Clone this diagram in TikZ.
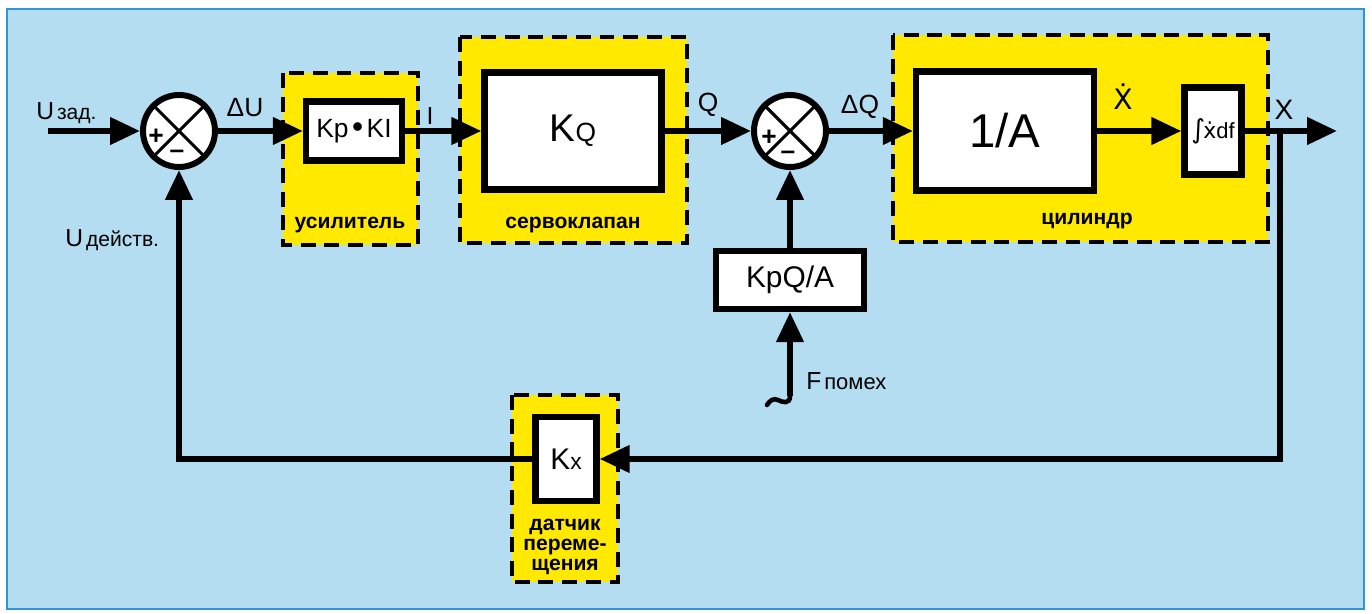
\documentclass[tikz,border=0pt]{standalone}
\usepackage{fontspec}
\setmainfont{Liberation Sans}
\newfontfamily\dotfont{DejaVu Sans}
\usetikzlibrary{arrows.meta}
\definecolor{skyfill}{RGB}{180,221,241}
\definecolor{unitfill}{RGB}{255,233,0}
\definecolor{framecol}{RGB}{46,150,212}
\tikzset{
  blk/.style={draw, fill=white, line width=3.6pt, inner sep=0pt},
  sumj/.style={circle, draw, fill=white, line width=3.4pt, minimum size=1.44cm, inner sep=0pt,
    path picture={\draw[line width=1.8pt]
      (path picture bounding box.north west) -- (path picture bounding box.south east)
      (path picture bounding box.north east) -- (path picture bounding box.south west);}},
  unit/.style={draw, fill=unitfill, line width=1.8pt, dash pattern=on 8.5pt off 5pt},
  conn/.style={line width=3.4pt, -{Triangle[length=17pt,width=15pt]}},
  wire/.style={line width=2.6pt, line cap=round},
  sgn/.style={font=\fontsize{15}{15}\selectfont\bfseries, inner sep=0pt},
  lbl/.style={inner sep=0pt},
  unitname/.style={font=\fontsize{12}{11.5}\selectfont\bfseries, inner sep=0pt, align=center}
}
\begin{document}
\begin{tikzpicture}[x=0.02cm, y=-0.02cm]
  \useasboundingbox (0,0) rectangle (1372,614);
  \draw[fill=skyfill, draw=framecol, line width=1.4pt] (7,9) rectangle (1364,609);
  \draw[unit] (283,73) rectangle (418,245);
  \draw[unit] (460,37) rectangle (687,243);
  \draw[unit] (893,35) rectangle (1268,242);
  \draw[unit] (512,395) rectangle (618,582);
  \node[unitname] (ampname) at (350,225) {усилитель};
  \node[unitname] (servoname) at (573,225) {сервоклапан};
  \node[unitname] (cylname) at (1087,221) {цилиндр};
  \node[unitname] (sensname) at (565,547) {датчик\\переме-\\щения};
  \node[sumj] (s1) at (179,131) {};
  \node[sumj] (s2) at (790,131) {};
  \node[sgn] (s1p) at (156,137) {+};
  \node[sgn] (s1m) at (177,154) {–};
  \node[sgn] (s2p) at (769,138) {+};
  \node[sgn] (s2m) at (788,155) {–};
  \node[blk, minimum width=1.92cm, minimum height=1.18cm, font=\fontsize{15}{15}\selectfont] (kpki) at (354,131) {Kp\kern2pt{\fontsize{18}{18}\selectfont•}\kern2pt KI};
  \node[blk, minimum width=3.54cm, minimum height=2.34cm] (kq) at (573,131) {{\fontsize{22}{22}\selectfont K}{\fontsize{15}{15}\selectfont Q}};
  \node[blk, minimum width=3.56cm, minimum height=2.38cm, font=\fontsize{27}{27}\selectfont] (inva) at (1005,131) {1/A};
  \node[blk, minimum width=1.14cm, minimum height=1.74cm, font=\fontsize{12.5}{12.5}\selectfont] (integ) at (1213,131) {{\dotfont\fontsize{15}{15}\selectfont ∫}\kern-1pt{\dotfont ẋ}df};
  \node[blk, minimum width=2.96cm, minimum height=1.16cm, font=\fontsize{17}{17}\selectfont] (kpqa) at (790,280) {KpQ/A};
  \node[blk, minimum width=1.22cm, minimum height=1.68cm] (kx) at (566,459) {{\fontsize{17}{17}\selectfont K}{\fontsize{13}{13}\selectfont x}};
  \node[lbl, anchor=west] (uset) at (36,113) {{\fontsize{14}{14}\selectfont U}\,{\fontsize{12}{12}\selectfont зад.}};
  \node[lbl, font=\fontsize{15}{15}\selectfont] (du) at (245,108) {ΔU};
  \node[lbl, font=\fontsize{14}{14}\selectfont] (ilbl) at (430,116) {I};
  \node[lbl, font=\fontsize{15}{15}\selectfont] (qlbl) at (708,105) {Q};
  \node[lbl, font=\fontsize{15}{15}\selectfont] (dq) at (860,107) {ΔQ};
  \node[lbl, font=\dotfont\fontsize{16}{16}\selectfont] (xdlbl) at (1123,97) {Ẋ};
  \node[lbl, font=\fontsize{16}{16}\selectfont] (xlbl) at (1284,110) {X};
  \node[lbl, anchor=west] (uact) at (65,240) {{\fontsize{14}{14}\selectfont U}\,{\fontsize{12}{12}\selectfont действ.}};
  \node[lbl, anchor=west] (fdist) at (806,381) {{\fontsize{14}{14}\selectfont F}\,{\fontsize{12.5}{12.5}\selectfont помех}};
  \coordinate (uin) at (48,131);
  \coordinate (xbr) at (1280,131);
  \coordinate (xout) at (1337,131);
  \coordinate (fin) at (790,396);
  \draw[conn] (uin) -- (s1);
  \draw[conn] (s1) -- (kpki);
  \draw[conn] (kpki) -- (kq);
  \draw[conn] (kq) -- (s2);
  \draw[conn] (s2) -- (inva);
  \draw[conn] (inva) -- (integ);
  \draw[conn] (integ) -- (xout);
  \draw[conn] (xbr) |- (kx);
  \draw[conn] (kx) -| (s1);
  \draw[conn] (kpqa) -- (s2);
  \draw[conn] (fin) -- (kpqa);
  \draw[wire] (fin) .. controls (790,405) and (782,402) .. (778,400) .. controls (774,398) and (770,400) .. (767,405);
\end{tikzpicture}
\end{document}
